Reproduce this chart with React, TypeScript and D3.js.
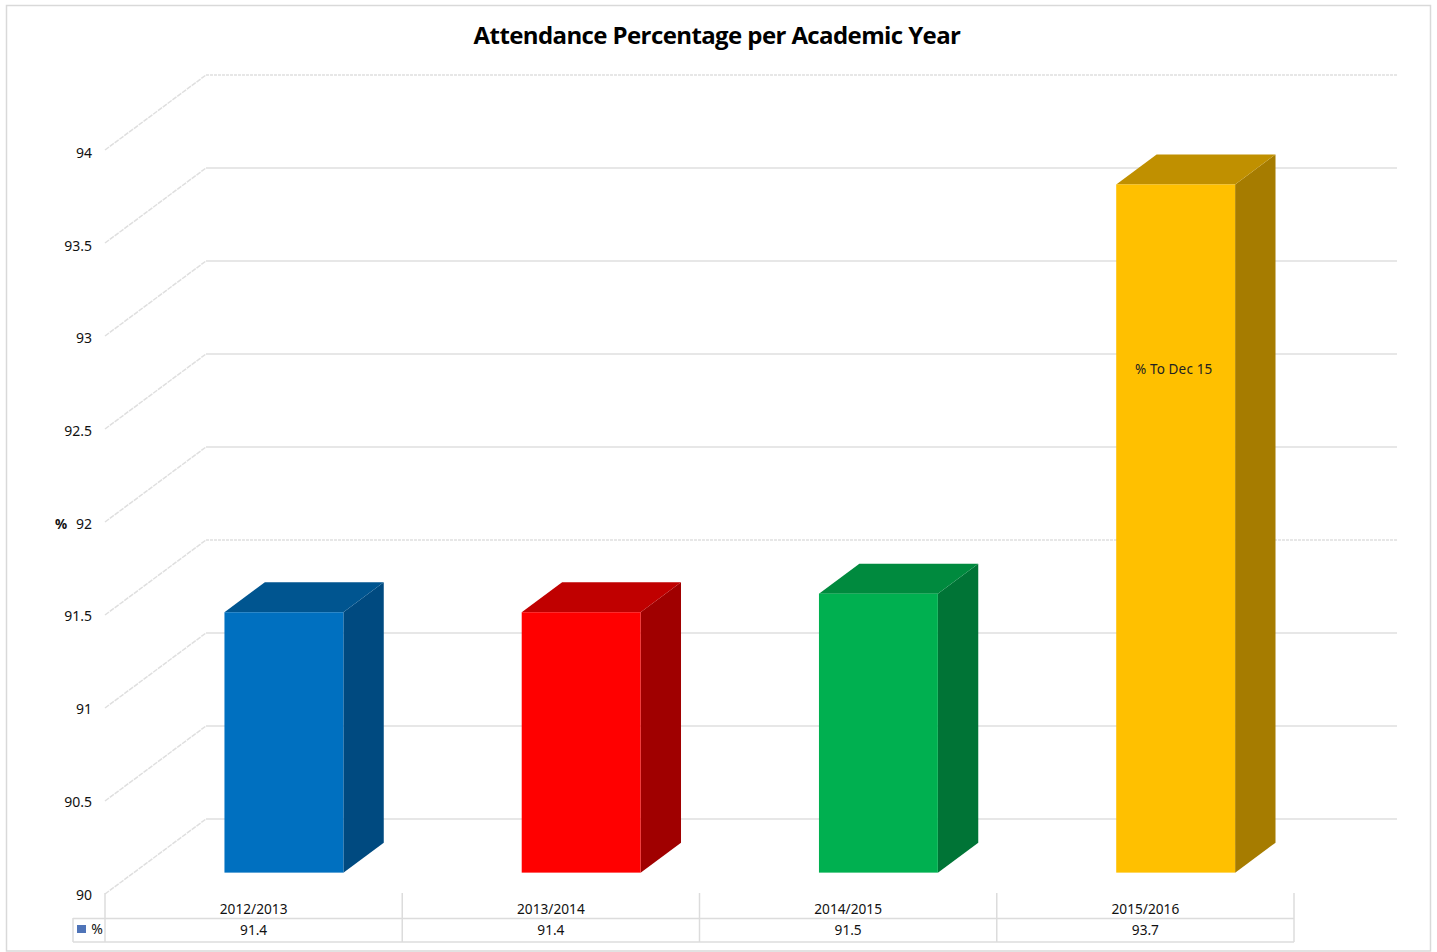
import React from "react";
import * as d3 from "d3";

const years = ["2012/2013", "2013/2014", "2014/2015", "2015/2016"];
const values = [91.4, 91.4, 91.5, 93.7];
const tableLabels = ["91.4", "91.4", "91.5", "93.7"];
const ticks = [90, 90.5, 91, 91.5, 92, 92.5, 93, 93.5, 94];
const dottedTicks = [94, 91.5];
const frontColors = ["#0070c0", "#ff0000", "#00b050", "#ffc000"];
const topColors = ["#005590", "#c00000", "#008a3e", "#c09000"];
const sideColors = ["#004a80", "#a00000", "#007436", "#a67c00"];
const annotations = ["", "", "", "% To Dec 15"];
const seriesName = "%";
const axisTitle = "%";
const title = "Attendance Percentage per Academic Year";

const W = 1437, H = 952;
const x = d3.scaleBand<string>().domain(years).range([106.5, 1295.5]).paddingInner(0.6).paddingOuter(0.3);
const xEdge = d3.scaleLinear().domain([0, years.length]).range([105, 1294]);
const y = d3.scaleLinear().domain([90, 94]).range([894, 150]);
const yLabel = d3.scaleLinear().domain([90, 94]).range([899.5, 158]);
const depthX = d3.scaleLinear().domain([0, 1]).range([0, 101]);
const depthY = d3.scaleLinear().domain([0, 1]).range([0, -75]);
const FRONT = 0.285, BACK = 0.685;
const px = (a: number, d: number) => a + depthX(d);
const py = (v: number, d: number) => y(v) + depthY(d);
const poly = (pts: [number, number][]) => d3.line()(pts) + "Z";

const font = "'Noto Sans', sans-serif";
const GRID = "#dfdfdf";

export default function App() {
  const bw = x.bandwidth();
  return (
    <svg width={W} height={H} viewBox={`0 0 ${W} ${H}`} style={{ position: "absolute", left: 0, top: 0, background: "#fff" }}>
      <rect x={6.5} y={5.5} width={1424} height={945.5} fill="#fff" stroke="#d9d9d9" strokeWidth={1.5} />
      <text x={717} y={44} textAnchor="middle" fontFamily="'Open Sans', sans-serif" fontWeight={700} fontSize={24} letterSpacing={-0.6} fill="#000">{title}</text>

      {ticks.map((t) => (
        <g key={t}>
          <path d={d3.line()([[px(105, 0), py(t, 0)], [px(105, 1), py(t, 1)]]) as string}
            fill="none" stroke={GRID} strokeWidth={1.5} strokeDasharray="5 1" />
          <path d={d3.line()([[px(105, 1), py(t, 1)], [px(1294, 1) + 2, py(t, 1)]]) as string}
            fill="none" stroke={GRID} strokeWidth={1.5} strokeDasharray={dottedTicks.includes(t) ? "3 1" : undefined} />
          <text x={92} y={yLabel(t)} textAnchor="end" fontFamily={font} fontSize={14} fill="#111">{t}</text>
        </g>
      ))}
      <text x={61} y={529} textAnchor="middle" fontFamily={font} fontWeight={700} fontSize={13.5} fill="#111">{axisTitle}</text>

      {years.map((c, i) => {
        const l = x(c) as number;
        const r = l + bw;
        const v = values[i];
        return (
          <g key={c}>
            <path d={poly([[px(r, FRONT), py(90, FRONT)], [px(r, BACK), py(90, BACK)], [px(r, BACK), py(v, BACK)], [px(r, FRONT), py(v, FRONT)]])} fill={sideColors[i]} />
            <path d={poly([[px(l, FRONT), py(v, FRONT)], [px(r, FRONT), py(v, FRONT)], [px(r, BACK), py(v, BACK)], [px(l, BACK), py(v, BACK)]])} fill={topColors[i]} />
            <rect x={px(l, FRONT)} y={py(v, FRONT)} width={bw} height={py(90, FRONT) - py(v, FRONT)} fill={frontColors[i]} />
            {annotations[i] && (
              <text x={px(l, FRONT) + bw / 2 - 2} y={374} textAnchor="middle" fontFamily={font} fontSize={13.5} letterSpacing={0.15} fill="#222">{annotations[i]}</text>
            )}
          </g>
        );
      })}

      <g stroke="#dcdcdc" strokeWidth={1.5} fill="none">
        <line x1={73} x2={1294} y1={918.5} y2={918.5} />
        <line x1={73} x2={1294} y1={942} y2={942} />
        <line x1={73} x2={73} y1={918} y2={942} />
        {d3.range(years.length + 1).map((i) => (
          <line key={i} x1={xEdge(i)} x2={xEdge(i)} y1={893} y2={942} />
        ))}
      </g>
      {years.map((c, i) => {
        const mid = (xEdge(i) + xEdge(i + 1)) / 2;
        return (
          <g key={c} fontFamily={font} fontSize={13.7} fill="#111" textAnchor="middle">
            <text x={mid} y={914}>{c}</text>
            <text x={mid} y={935}>{tableLabels[i]}</text>
          </g>
        );
      })}
      <rect x={77} y={925} width={9} height={8} fill="#4f74b8" />
      <text x={97} y={934} textAnchor="middle" fontFamily={font} fontSize={14} fill="#111">{seriesName}</text>
    </svg>
  );
}
